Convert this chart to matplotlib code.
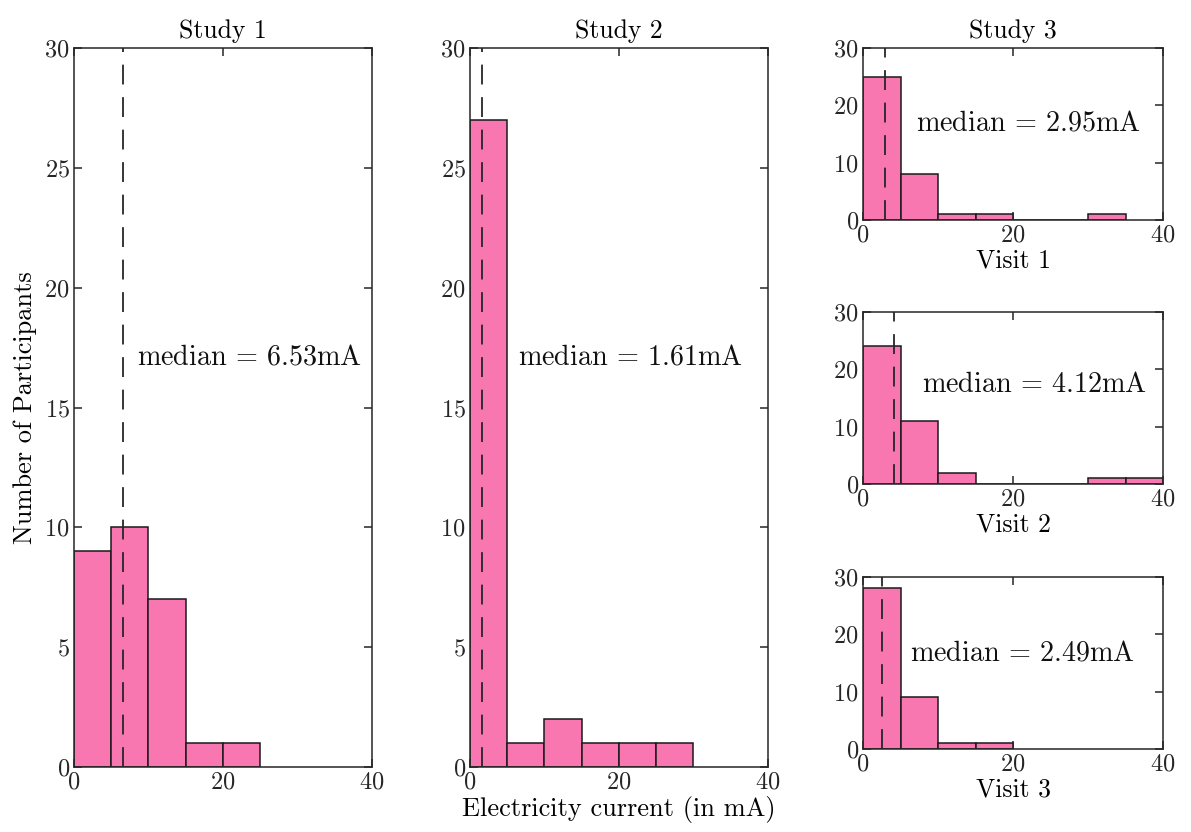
import numpy as np
import matplotlib
matplotlib.use("Agg")
import matplotlib.pyplot as plt

# histogram counts per 5 mA bin, starting at 0 mA
bin_width = 5
study1_counts = [9, 10, 7, 1, 1]
study2_counts = [27, 1, 2, 1, 1, 1]
visit1_counts = [25, 8, 1, 1, 0, 0, 1]
visit2_counts = [24, 11, 2, 0, 0, 0, 1, 1]
visit3_counts = [28, 9, 1, 1]

# medians in mA
study1_median = 6.53
study2_median = 1.61
visit1_median = 2.95
visit2_median = 4.12
visit3_median = 2.49

bar_color = "#F977B0"
line_color = "#262626"

plt.rcParams["font.family"] = "serif"
plt.rcParams["font.serif"] = ["cmr10"]
plt.rcParams["mathtext.fontset"] = "cm"
plt.rcParams["axes.formatter.use_mathtext"] = True
plt.rcParams["axes.unicode_minus"] = False


def style_axes(ax, yticks):
    ax.set_xlim(0, 40)
    ax.set_ylim(0, 30)
    ax.set_xticks([0, 20, 40])
    ax.set_yticks(yticks)
    ax.tick_params(direction="in", top=True, right=True, length=6,
                   width=1.1, labelsize=17.5, colors=line_color, pad=3)
    for s in ax.spines.values():
        s.set_linewidth(1.1)
        s.set_color(line_color)


def draw_hist(ax, counts, median, text_xy, fontsize=20.3):
    edges = np.arange(len(counts)) * bin_width
    ax.bar(edges, counts, width=bin_width, align="edge", color=bar_color,
           edgecolor="#1a1a1a", linewidth=1.1, zorder=2)
    ax.axvline(median, color=line_color, linewidth=1.3, dashes=(11, 7), zorder=3)
    ax.text(text_xy[0], text_xy[1], r"$\mathrm{median}\,=\,%.2f\mathrm{mA}$" % median,
            fontsize=fontsize, ha="left", va="center", color="#111111")


fig = plt.figure(figsize=(11.91, 8.32), dpi=100)

ax1 = fig.add_axes([0.0621, 0.0781, 0.2502, 0.8642])
draw_hist(ax1, study1_counts, study1_median, (8.5, 17.1))
style_axes(ax1, [0, 5, 10, 15, 20, 25, 30])
ax1.set_title("Study 1", fontsize=18.5, pad=7)
ax1.set_ylabel("Number of Participants", fontsize=19, labelpad=5)

ax2 = fig.add_axes([0.3946, 0.0781, 0.2502, 0.8642])
draw_hist(ax2, study2_counts, study2_median, (6.4, 17.1))
style_axes(ax2, [0, 5, 10, 15, 20, 25, 30])
ax2.set_title("Study 2", fontsize=18.5, pad=7)
ax2.set_xlabel("Electricity current (in mA)", fontsize=19, labelpad=2)

ax3 = fig.add_axes([0.7246, 0.7356, 0.2519, 0.2067])
draw_hist(ax3, visit1_counts, visit1_median, (7.1, 16.9))
style_axes(ax3, [0, 10, 20, 30])
ax3.set_title("Study 3", fontsize=18.5, pad=7)
ax3.set_xlabel("Visit 1", fontsize=18.5, labelpad=2)

ax4 = fig.add_axes([0.7246, 0.4183, 0.2519, 0.2067])
draw_hist(ax4, visit2_counts, visit2_median, (7.9, 17.3))
style_axes(ax4, [0, 10, 20, 30])
ax4.set_xlabel("Visit 2", fontsize=18.5, labelpad=2)

ax5 = fig.add_axes([0.7246, 0.0998, 0.2519, 0.2067])
draw_hist(ax5, visit3_counts, visit3_median, (6.3, 16.75))
style_axes(ax5, [0, 10, 20, 30])
ax5.set_xlabel("Visit 3", fontsize=18.5, labelpad=2)

fig.savefig("out.png", dpi=100)
